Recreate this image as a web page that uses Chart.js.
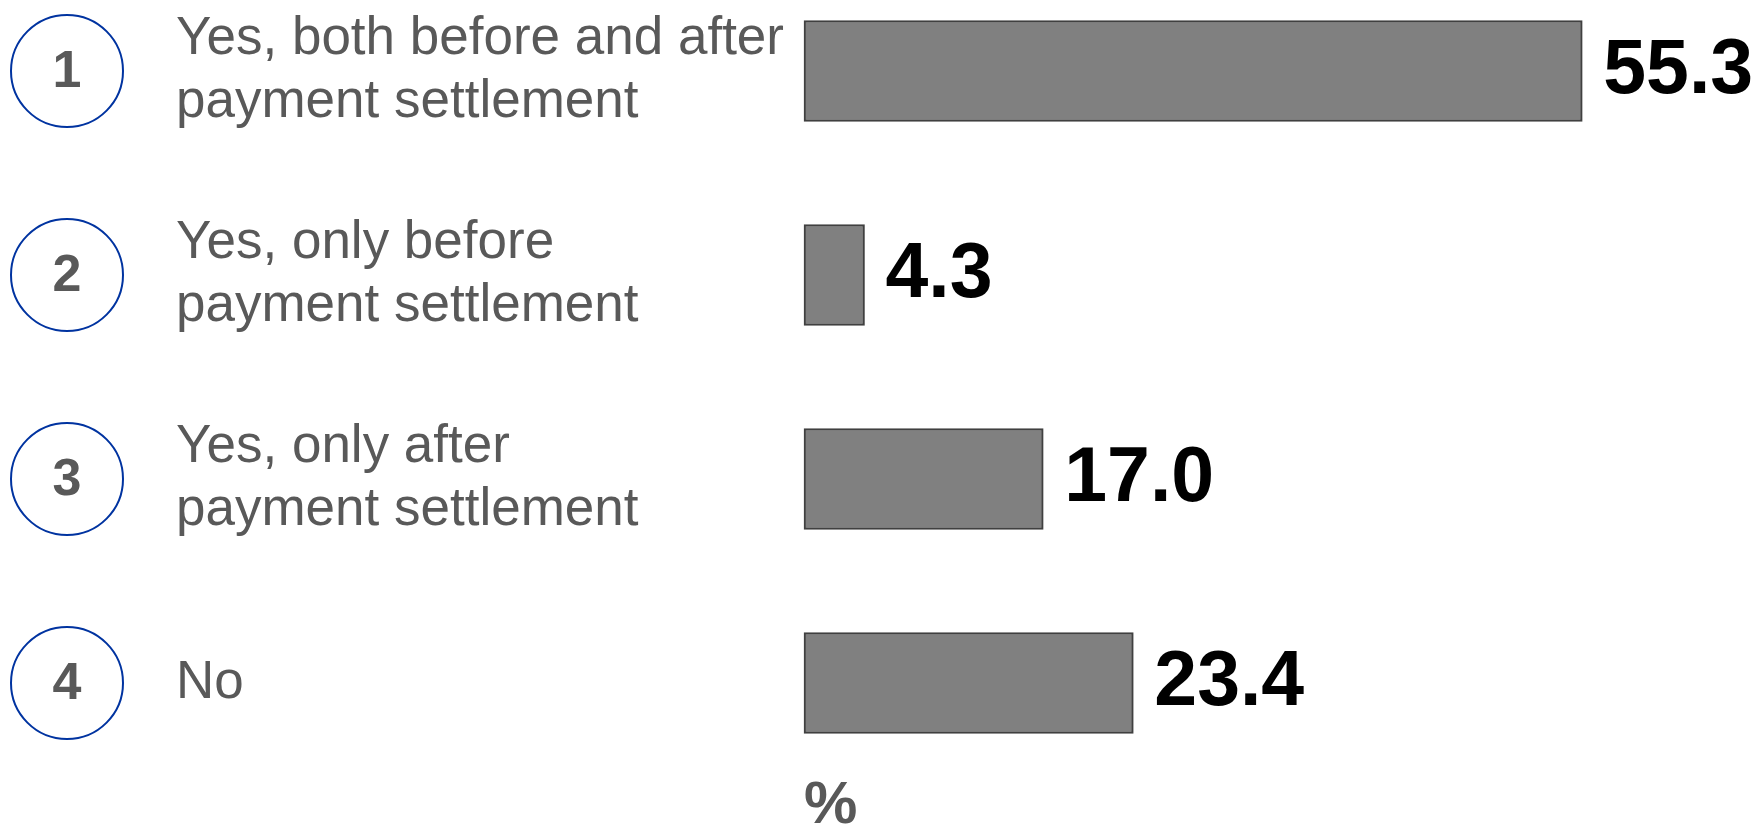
<!DOCTYPE html>
<html>
<head>
<meta charset="utf-8">
<script src="https://cdn.jsdelivr.net/npm/chart.js@4"></script>
<style>
  html, body { margin: 0; padding: 0; background: #fff; }
  #wrap { width: 1761px; height: 833px; }
</style>
</head>
<body>
<div id="wrap"><canvas id="myChart"></canvas></div>
<script>
const answerLabels = [
    ['Yes, both before and after', 'payment settlement'],
    ['Yes, only before', 'payment settlement'],
    ['Yes, only after', 'payment settlement'],
    'No'
];
const answerNumbers = ['1', '2', '3', '4'];
const shares = [55.3, 4.3, 17.0, 23.4];
const unitLabel = '%';

const textGrey = '#595959';
const context = document.getElementById('myChart').getContext('2d');

// numbered circles left of each answer
const circlesPlugin = {
    id: 'circles',
    afterDraw(chart) {
        const ctx = chart.ctx;
        const yScale = chart.scales.y;
        ctx.save();
        answerNumbers.forEach((num, i) => {
            const y = yScale.getPixelForTick(i);
            ctx.beginPath();
            ctx.arc(67, y, 56, 0, Math.PI * 2);
            ctx.strokeStyle = '#0033a0';
            ctx.lineWidth = 2;
            ctx.stroke();
            ctx.fillStyle = textGrey;
            ctx.font = 'bold 52px "Liberation Sans", Arial, sans-serif';
            ctx.textAlign = 'center';
            ctx.textBaseline = 'middle';
            ctx.fillText(num, 67, y + 2);
        });
        ctx.restore();
    }
};

// value at the end of each bar
const valuesPlugin = {
    id: 'values',
    afterDatasetsDraw(chart) {
        const ctx = chart.ctx;
        const meta = chart.getDatasetMeta(0);
        ctx.save();
        ctx.fillStyle = '#000';
        ctx.font = 'bold 77px "Liberation Sans", Arial, sans-serif';
        ctx.textAlign = 'left';
        ctx.textBaseline = 'middle';
        meta.data.forEach((bar, i) => {
            ctx.fillText(shares[i].toFixed(1), bar.x + 21, bar.y + 1);
        });
        ctx.restore();
    }
};

const data = {
    labels: answerLabels,
    datasets: [{
        data: shares,
        backgroundColor: '#808080',
        borderColor: '#404040',
        borderWidth: 2,
        borderSkipped: false,
        barThickness: 101,
        clip: false
    }]
};

const config = {
    type: 'bar',
    data: data,
    options: {
        indexAxis: 'y',
        responsive: true,
        maintainAspectRatio: false,
        animation: false,
        layout: { padding: { left: 176, top: 71, right: 0, bottom: 0 } },
        plugins: {
            legend: { display: false },
            tooltip: { enabled: false }
        },
        scales: {
            x: {
                min: 0,
                max: 68,
                grid: { display: false, drawTicks: false },
                border: { display: false },
                ticks: { display: false },
                title: {
                    display: true,
                    text: unitLabel,
                    align: 'start',
                    color: textGrey,
                    font: { family: '"Liberation Sans", Arial, sans-serif', size: 60, weight: 'bold', lineHeight: 0.9 },
                    padding: { top: 96, bottom: 0 }
                }
            },
            y: {
                offset: false,
                grid: { display: false, drawTicks: false },
                border: { display: false },
                afterFit(scale) { scale.width = 804 - 176; },
                ticks: {
                    crossAlign: 'far',
                    color: textGrey,
                    font: { family: '"Liberation Sans", Arial, sans-serif', size: 53, lineHeight: 1.19 }
                }
            }
        }
    },
    plugins: [circlesPlugin, valuesPlugin]
};

const myChart = new Chart(context, config);
</script>
</body>
</html>
